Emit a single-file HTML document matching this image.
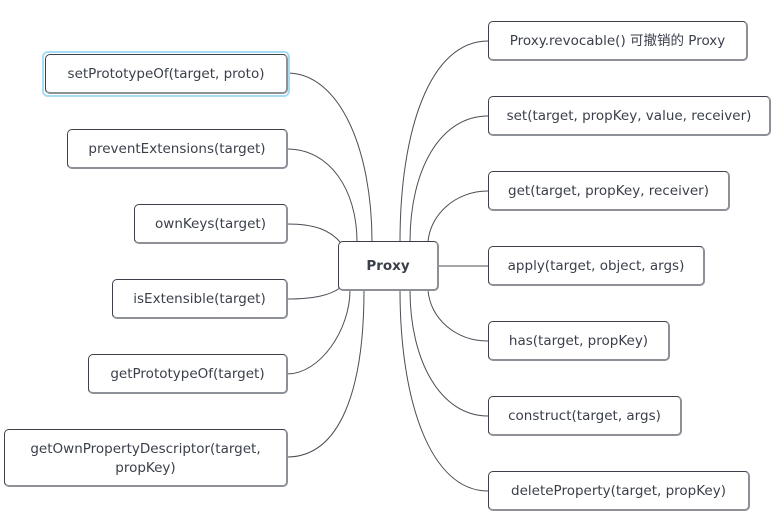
<!DOCTYPE html>
<html><head><meta charset="utf-8"><style>
body{margin:0;background:#fff;width:776px;height:519px;overflow:hidden;position:relative;font-family:"DejaVu Sans","Noto Sans CJK SC",sans-serif}
.b{position:absolute;box-sizing:border-box;border:1px solid #3d4048;border-right:2px solid #8d9096;border-bottom:2px solid #8d9096;border-radius:5px;background:#fff;color:#3a3f4a;font-size:13.5px;display:flex;align-items:center;justify-content:center;text-align:center;line-height:19px;white-space:nowrap;padding-top:2px}
svg{position:absolute;left:0;top:0}
</style></head><body>
<svg width="776" height="519" fill="none" stroke="#4a4d55" stroke-width="1">
<path d="M287,73 C340,73 372,150 372,242"/>
<path d="M287,149 C330,149 357,190 357,242"/>
<path d="M287,224 C315,224 330,230 341,243"/>
<path d="M287,299 C315,299 330,295 340,288"/>
<path d="M287,374 C320,374 350,330 350,290"/>
<path d="M287,457 C340,457 364,390 364,290"/>
<path d="M488,41 C430,41 400,130 400,242"/>
<path d="M488,116 C440,116 410,170 410,242"/>
<path d="M488,191 C455,191 430,215 428,242"/>
<path d="M438,266 L488,266"/>
<path d="M488,341 C455,341 430,318 428,290"/>
<path d="M488,416 C440,416 410,360 410,290"/>
<path d="M488,491 C430,491 400,400 400,290"/>
</svg>
<div style="position:absolute;left:42px;top:51px;width:248px;height:46px;border:2px solid #a6dcf5;border-radius:6px;box-sizing:border-box"></div>
<div class="b" style="left:45px;top:54px;width:243px;height:40px">setPrototypeOf(target, proto)</div>
<div class="b" style="left:67px;top:129px;width:221px;height:40px">preventExtensions(target)</div>
<div class="b" style="left:134px;top:204px;width:154px;height:40px">ownKeys(target)</div>
<div class="b" style="left:112px;top:279px;width:176px;height:40px">isExtensible(target)</div>
<div class="b" style="left:88px;top:354px;width:200px;height:40px">getPrototypeOf(target)</div>
<div class="b" style="left:4px;top:429px;width:284px;height:58px">getOwnPropertyDescriptor(target,<br>propKey)</div>
<div class="b" style="left:338px;top:241px;width:101px;height:50px;font-weight:bold">Proxy</div>
<div class="b" style="left:488px;top:21px;width:260px;height:40px">Proxy.revocable() 可撤销的 Proxy</div>
<div class="b" style="left:488px;top:96px;width:283px;height:40px">set(target, propKey, value, receiver)</div>
<div class="b" style="left:488px;top:171px;width:242px;height:40px">get(target, propKey, receiver)</div>
<div class="b" style="left:488px;top:246px;width:217px;height:40px">apply(target, object, args)</div>
<div class="b" style="left:488px;top:321px;width:182px;height:40px">has(target, propKey)</div>
<div class="b" style="left:488px;top:396px;width:194px;height:40px">construct(target, args)</div>
<div class="b" style="left:488px;top:471px;width:262px;height:40px">deleteProperty(target, propKey)</div>
</body></html>
